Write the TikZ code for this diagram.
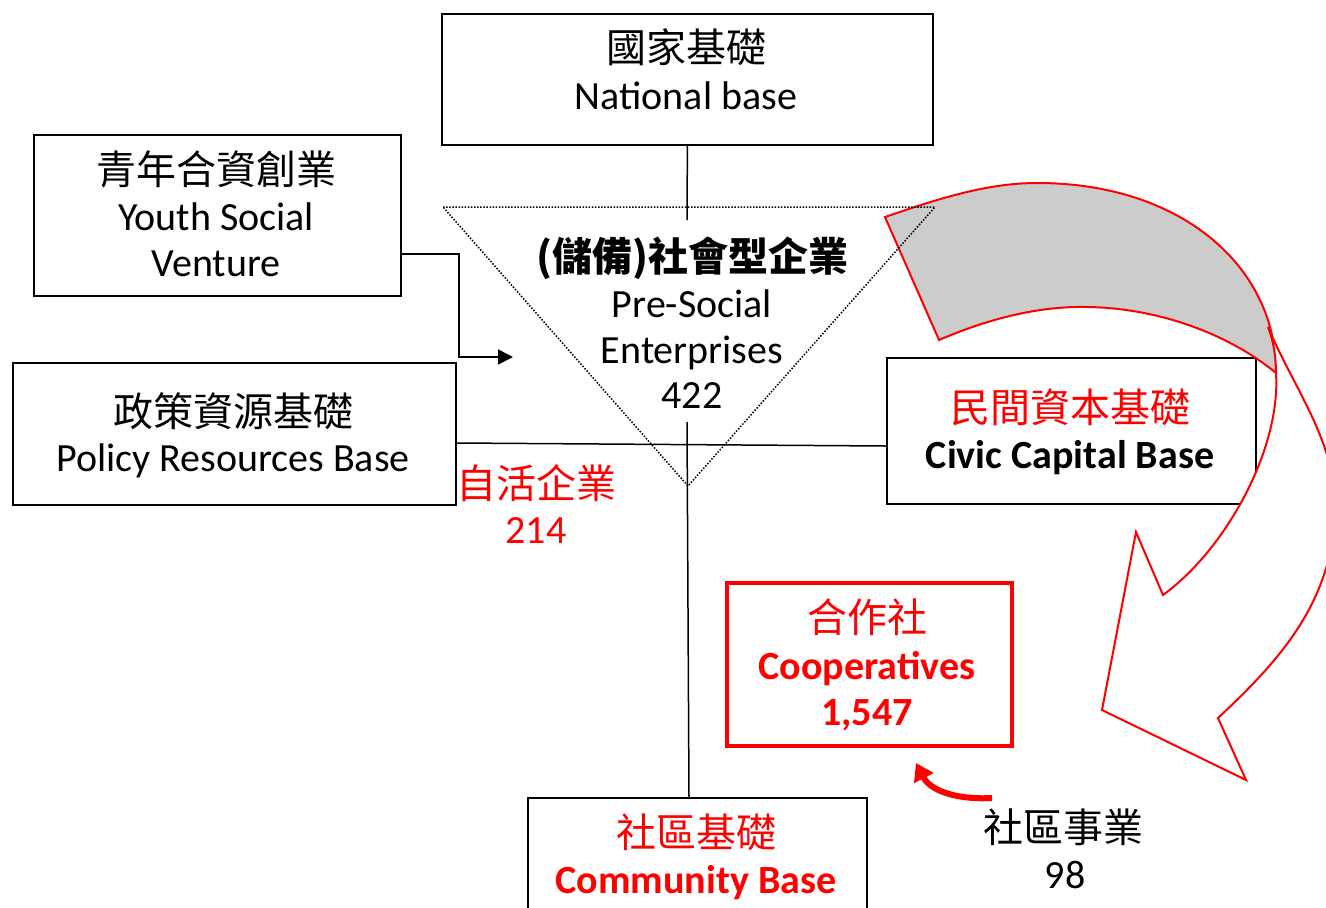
\documentclass[tikz,border=0pt]{standalone}
\usepackage{fontspec}
\setmainfont{Carlito}
\newfontfamily\cjk{Noto Sans CJK TC}
\usetikzlibrary{arrows.meta}
\definecolor{myred}{RGB}{255,0,0}
\definecolor{mygrey}{RGB}{204,204,204}
\tikzset{
  lbl/.style={inner sep=0pt, anchor=base, font=\fontsize{40}{48}\selectfont},
  zh/.style={inner sep=0pt, anchor=base, font=\fontsize{40}{48}\selectfont\cjk},
  boxn/.style={draw, line width=1.8pt, anchor=north west, inner sep=0pt},
  conn/.style={line width=1.5pt},
  bigarrow/.style={draw=myred, line width=2pt, line join=miter},
}
\begin{document}
\begin{tikzpicture}[x=1pt,y=-1pt]
\useasboundingbox (0,0) rectangle (1326,908);
\clip (0,0) rectangle (1326,908);

% boxes
\node[boxn, minimum width=491pt, minimum height=131pt] (nat) at (441,13) {};
\node[boxn, minimum width=367pt, minimum height=161pt] (youth) at (33,134) {};
\node[boxn, minimum width=443pt, minimum height=142pt] (policy) at (12,362) {};
\node[boxn, minimum width=369pt, minimum height=146pt] (civic) at (886,357) {};
\node[boxn, draw=myred, line width=3.5pt, minimum width=285pt, minimum height=163pt] (coop) at (725,581) {};
\node[boxn, minimum width=339pt, minimum height=140pt] (comm) at (527,797) {};

% curved arrow: back (grey) part
\filldraw[bigarrow, fill=mygrey]
  (885,217) -- (939,340)
  .. controls (990,318) and (1040,306) .. (1087,307)
  .. controls (1160,308) and (1230,335) .. (1276,373)
  .. controls (1277,270) and (1185,183) .. (1037,183)
  .. controls (985,183) and (935,200) .. (885,217)
  -- cycle;
% curved arrow: front part with head
\filldraw[bigarrow, fill=white]
  (1268,327) .. controls (1273,340) and (1276,355) .. (1276,373)
  .. controls (1281,450) and (1225,550) .. (1163,595)
  -- (1136,532) -- (1102,710) -- (1246,780) -- (1218,718)
  .. controls (1280,660) and (1335,600) .. (1335,505)
  .. controls (1335,440) and (1292,385) .. (1268,327)
  -- cycle;

% dotted triangle
\coordinate (tl) at (443,207);
\coordinate (tr) at (935,207);
\coordinate (tb) at (688,486);
\draw[line width=1.5pt, dash pattern=on 1.5pt off 1.6pt] (tl) -- (tr) -- (tb) -- cycle;

% connectors
\coordinate (natend) at (687,220);
\draw[conn] (nat.south) -- (natend);

\coordinate (yrow) at (0,254);
\coordinate (ytip) at (513,357);
\draw[conn, -{Triangle[length=15pt,width=15pt]}] (youth.east |- yrow) -- ++(57,0) |- (ytip);

\coordinate (prow) at (0,443);
\coordinate (crow) at (0,446);
\draw[conn] (policy.east |- prow) -- (civic.west |- crow);

\coordinate (vtop) at (687,422);
\coordinate (vcol) at (689,0);
\draw[conn] (vtop) -- (comm.north -| vcol);

\coordinate (rs) at (992,798);
\coordinate (rt) at (916,763);
\draw[myred, line width=6pt, -{Triangle[length=17pt,width=21pt]}] (rs) .. controls (955,800) and (930,790) .. (rt);

% texts
\node[zh] (nat1) at (686,62) {國家基礎};
\node[lbl] (nat2) at (686,109) {National base};

\node[zh] (you1) at (216,184) {青年合資創業};
\node[lbl] (you2) at (216,230) {Youth Social};
\node[lbl] (you3) at (216,276) {Venture};

\node[zh] (pol1) at (233,426) {政策資源基礎};
\node[lbl] (pol2) at (233,471) {Policy Resources Base};

\node[zh, font=\fontsize{40}{48}\selectfont\cjk\bfseries] (pse1) at (692,271) {(儲備)社會型企業};
\node[lbl] (pse2) at (692,317) {Pre-Social};
\node[lbl] (pse3) at (692,363) {Enterprises};
\node[lbl] (pse4) at (692,408) {422};

\node[zh, text=myred] (civ1) at (1070,422) {民間資本基礎};
\node[lbl, font=\fontsize{40}{48}\selectfont\bfseries] (civ2) at (1070,468) {Civic Capital Base};

\node[zh, text=myred] (coo1) at (867,632) {合作社};
\node[lbl, text=myred, font=\fontsize{40}{48}\selectfont\bfseries] (coo2) at (867,679) {Cooperatives};
\node[lbl, text=myred, font=\fontsize{40}{48}\selectfont\bfseries] (coo3) at (867,725) {1,547};

\node[zh, text=myred] (com1) at (696,847) {社區基礎};
\node[lbl, text=myred, font=\fontsize{40}{48}\selectfont\bfseries] (com2) at (696,893) {Community Base};

\node[zh, text=myred] (sh1) at (536,498) {自活企業};
\node[lbl, text=myred] (sh2) at (536,543) {214};

\node[zh] (se1) at (1063,842) {社區事業};
\node[lbl] (se2) at (1065,888) {98};
\end{tikzpicture}
\end{document}
